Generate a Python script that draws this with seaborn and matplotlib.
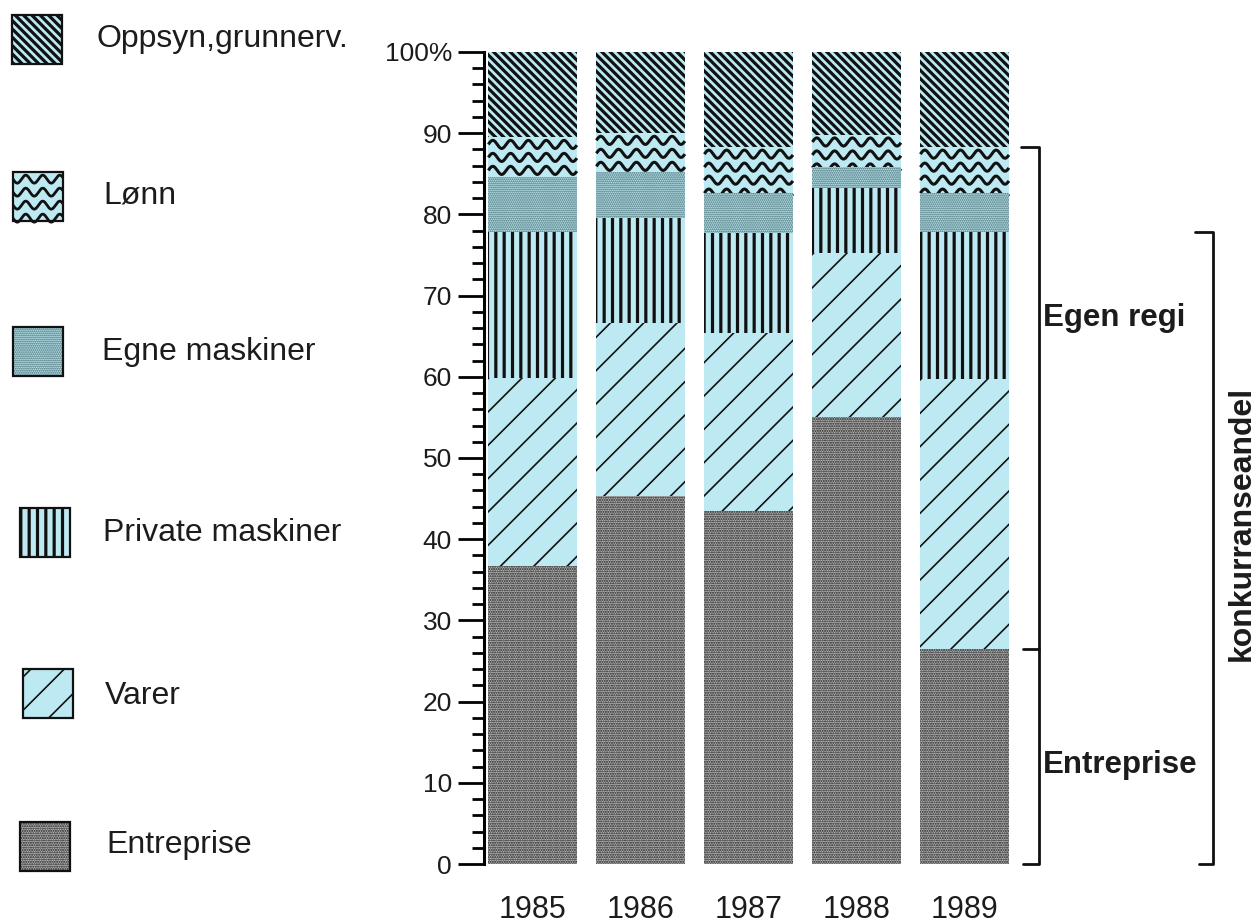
import matplotlib
matplotlib.use("Agg")
import matplotlib.pyplot as plt
from matplotlib.patches import Rectangle
from matplotlib.ticker import MultipleLocator
import numpy as np
import seaborn as sns

years = ["1985", "1986", "1987", "1988", "1989"]
entreprise = [36.7, 45.3, 43.5, 55.0, 26.5]
varer = [23.2, 21.3, 21.9, 20.2, 33.2]
private_maskiner = [17.9, 13.0, 12.3, 8.0, 18.1]
egne_maskiner = [6.8, 5.6, 4.9, 2.6, 4.8]
lonn = [4.9, 4.8, 5.7, 4.0, 5.7]
oppsyn = [10.5, 10.0, 11.7, 10.2, 11.7]

series_names = ["Entreprise", "Varer", "Private maskiner", "Egne maskiner", "Lønn", "Oppsyn,grunnerv."]
y_ticks = [0, 10, 20, 30, 40, 50, 60, 70, 80, 90, 100]
y_tick_labels = ["0", "10", "20", "30", "40", "50", "60", "70", "80", "90", "100%"]

BS = chr(92)  # backslash hatch
CYAN = "#bdeaf2"
styles = {
    "Entreprise": dict(face="#b6b6b6", hatch="." * 7, edge="#1a1a1a", hlw=1.0),
    "Varer": dict(face=CYAN, hatch="/", edge="#111111", hlw=1.2),
    "Private maskiner": dict(face=CYAN, hatch="||", edge="#111111", hlw=2.3),
    "Egne maskiner": dict(face=CYAN, hatch="." * 8, edge="#3a5f66", hlw=0.9),
    "Lønn": dict(face=CYAN, hatch=None, edge="#111111", hlw=1.0),
    "Oppsyn,grunnerv.": dict(face=CYAN, hatch=BS * 4, edge="#111111", hlw=2.3),
}

sns.set_theme(style="white")
plt.rcParams["font.family"] = ["Liberation Sans", "DejaVu Sans"]
TXT = "#1c1c1c"

fig = plt.figure(figsize=(12.56, 9.23), dpi=100)
ax = fig.add_axes([484 / 1256, 59 / 923, 526 / 1256, 812 / 923])

values = dict(zip(series_names, [entreprise, varer, private_maskiner, egne_maskiner, lonn, oppsyn]))
cum = {}
run = np.zeros(len(years))
for name in series_names:
    run = run + np.array(values[name])
    cum[name] = run.copy()


def waves(axis, clip, x0, width, y_hi, y_lo, period, amp, gap, lw, yflip=1):
    xs = np.linspace(x0, x0 + width, 300)
    y = y_hi - gap * 0.55 * yflip
    while (y - y_lo) * yflip > -amp:
        axis.plot(xs, y + amp * np.sin(2 * np.pi * (xs - x0) / period),
                  color="#111111", lw=lw, zorder=1, clip_path=clip,
                  solid_capstyle="butt")
        y -= gap * yflip


# overlay cumulative bars, tallest first
for name in reversed(series_names):
    st = styles[name]
    with plt.rc_context({"hatch.linewidth": st["hlw"]}):
        sns.barplot(x=years, y=cum[name], order=years, color=st["face"],
                    hatch=st["hatch"], edgecolor=st["edge"], linewidth=0,
                    width=0.82, saturation=1, errorbar=None, ax=ax)
    for p in ax.containers[-1]:
        try:
            p.set_hatch_linewidth(st["hlw"])
        except AttributeError:
            pass
    if name == "Lønn":
        below = cum["Egne maskiner"]
        for i, p in enumerate(ax.containers[-1]):
            waves(ax, p, p.get_x(), p.get_width(), cum[name][i], below[i],
                  0.165, 0.5, 1.6, 2.2)

ax.set_xlim(-0.45, 4.42)
ax.set_ylim(0, 100)
ax.set_xlabel("")
ax.set_ylabel("")
for s in ["top", "right", "bottom"]:
    ax.spines[s].set_visible(False)
ax.spines["left"].set_linewidth(2.2)
ax.spines["left"].set_color("black")
ax.set_yticks(y_ticks)
ax.set_yticklabels(y_tick_labels)
ax.yaxis.set_minor_locator(MultipleLocator(2))
ax.tick_params(axis="y", which="major", left=True, length=19, width=2,
               color="black", labelsize=19, labelcolor=TXT, pad=4)
ax.tick_params(axis="y", which="minor", left=True, length=9, width=2, color="black")
ax.tick_params(axis="x", length=0, pad=22, labelsize=22, labelcolor=TXT)

# brackets on the right
egen_top = cum["Lønn"][-1]
konk_top = cum["Private maskiner"][-1]
ent_top = cum["Entreprise"][-1]
ax.plot([4.52, 4.69, 4.69, 4.54], [egen_top, egen_top, 0, 0], color="#111111",
        lw=2, clip_on=False)
ax.plot([4.54, 4.69], [ent_top, ent_top], color="#111111", lw=2, clip_on=False)
ax.plot([6.13, 6.30, 6.30, 6.17], [konk_top, konk_top, 0, 0], color="#111111",
        lw=2, clip_on=False)
ax.text(4.726, 67.2, "Egen regi", fontsize=22.5, fontweight="bold", color=TXT,
        ha="left", va="center", clip_on=False)
ax.text(4.726, 12.2, "Entreprise", fontsize=22.5, fontweight="bold", color=TXT,
        ha="left", va="center", clip_on=False)
ax.text(6.57, 42.0, "konkurranseandel", fontsize=23, fontweight="bold", color=TXT,
        rotation=90, ha="center", va="center", clip_on=False)

# legend on the left, drawn in pixel space
lax = fig.add_axes([0, 0, 1, 1])
lax.set_xlim(0, 1256)
lax.set_ylim(923, 0)
lax.axis("off")
lax.patch.set_visible(False)

legend_pos = {
    "Oppsyn,grunnerv.": (12, 15, 97, 39),
    "Lønn": (13, 172, 103, 195),
    "Egne maskiner": (13, 327, 102, 352),
    "Private maskiner": (20, 508, 103, 533),
    "Varer": (23, 669, 105, 696),
    "Entreprise": (20, 822, 106, 845),
}
for name in reversed(series_names):
    st = styles[name]
    bx, by, tx, ty = legend_pos[name]
    with plt.rc_context({"hatch.linewidth": st["hlw"]}):
        sw = Rectangle((bx, by), 50, 49, facecolor=st["face"], hatch=st["hatch"],
                       edgecolor=st["edge"], linewidth=0)
    try:
        sw.set_hatch_linewidth(st["hlw"])
    except AttributeError:
        pass
    lax.add_patch(sw)
    if name == "Lønn":
        waves(lax, sw, bx, 50, by, by + 49, 17, 4, 13, 2.0, yflip=-1)
    lax.add_patch(Rectangle((bx, by), 50, 49, fill=False, edgecolor="#111111",
                            linewidth=1.6, zorder=3))
    lax.text(tx, ty, name, fontsize=23, color=TXT, ha="left", va="center")

fig.savefig("out.png", dpi=100, facecolor="white")
